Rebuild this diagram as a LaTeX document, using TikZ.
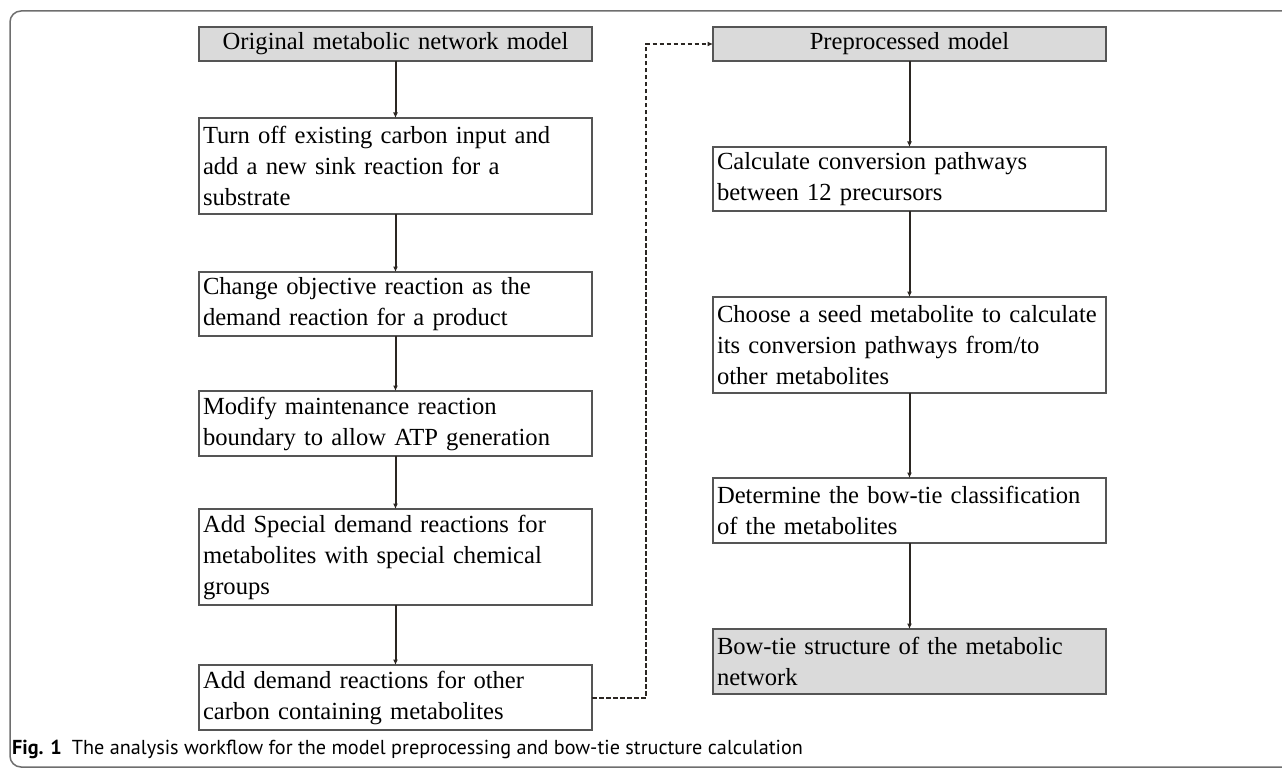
\documentclass[tikz,border=0pt]{standalone}
\usepackage{fontspec}
\setmainfont{Liberation Serif}
\newfontfamily\capfont{PT Sans}
\usetikzlibrary{arrows.meta,positioning}
\definecolor{boxline}{HTML}{555555}
\definecolor{greyfill}{HTML}{DADADA}
\definecolor{arrowline}{HTML}{2B2622}
\definecolor{frameline}{HTML}{6E6E6E}
\newcommand\boxfont{\fontsize{24.6}{31}\selectfont\hyphenpenalty=10000\relax}
\tikzset{
  card/.style={draw=boxline, line width=1.4pt, fill=white, text width=385pt,
               inner xsep=4pt, inner ysep=0pt, outer sep=0pt, align=left, font=\boxfont},
  grey/.style={card, fill=greyfill},
  arrow/.style={-{Latex[length=5.5pt,width=5pt]}, line width=2pt, draw=arrowline},
  dasharr/.style={arrow, dashed, dash pattern=on 4.5pt off 2.5pt},
  frame/.style={draw=frameline, line width=1.5pt, rounded corners=11pt},
  caption/.style={font=\capfont\fontsize{20.2}{23}\selectfont, inner sep=0pt}
}

\begin{document}
\begin{tikzpicture}[node distance=57pt]
  \useasboundingbox (0pt,0pt) rectangle (1282pt,-770pt);
  \clip (0pt,0pt) rectangle (1282pt,-770pt);
  \draw[frame] (1300pt,-11pt) -- (10pt,-11pt) -- (10pt,-767pt) -- (1300pt,-767pt);

  % left column: preparing the model
  \node[grey, align=center, minimum height=34pt] (orig) at (395.5pt,-44pt)
       {Original metabolic network model};
  \node[card, minimum height=96pt, below=57pt of orig] (sink)
       {Turn off existing carbon input and\\add a new sink reaction for a\\substrate};
  \node[card, minimum height=64pt, below=58pt of sink] (objective)
       {Change objective reaction as the\\demand reaction for a product};
  \node[card, minimum height=65pt, below=55pt of objective] (atpm)
       {Modify maintenance reaction\\boundary to allow ATP generation};
  \node[card, minimum height=96pt, below=53pt of atpm] (special)
       {Add Special demand reactions for\\metabolites with special chemical\\groups};
  \node[card, minimum height=65pt, below=60pt of special] (demand)
       {Add demand reactions for other\\carbon containing metabolites};

  % right column: bow-tie calculation
  \node[grey, align=center, minimum height=34pt] (prep) at (909.5pt,-44pt)
       {Preprocessed model};
  \node[card, minimum height=64pt, below=86pt of prep] (precursors)
       {Calculate conversion pathways\\between 12 precursors};
  \node[card, minimum height=96pt, below=86pt of precursors] (seed)
       {Choose a seed metabolite to calculate\\its conversion pathways from/to\\other metabolites};
  \node[card, minimum height=65pt, below=85pt of seed] (classify)
       {Determine the bow-tie classification\\of the metabolites};
  \node[grey, minimum height=65pt, below=86pt of classify] (bowtie)
       {Bow-tie structure of the metabolic\\network};

  \draw[arrow] (orig) -- (sink);
  \draw[arrow] (sink) -- (objective);
  \draw[arrow] (objective) -- (atpm);
  \draw[arrow] (atpm) -- (special);
  \draw[arrow] (special) -- (demand);
  \draw[arrow] (prep) -- (precursors);
  \draw[arrow] (precursors) -- (seed);
  \draw[arrow] (seed) -- (classify);
  \draw[arrow] (classify) -- (bowtie);
  \draw[dasharr] (demand.east) -- ++(54pt,0pt) |- (prep.west);

  \node[caption, anchor=base west] (cap) at (12pt,-754pt)
       {\textbf{Fig. 1}\hspace{10pt}The analysis workflow for the model preprocessing and bow-tie structure calculation};
\end{tikzpicture}
\end{document}
